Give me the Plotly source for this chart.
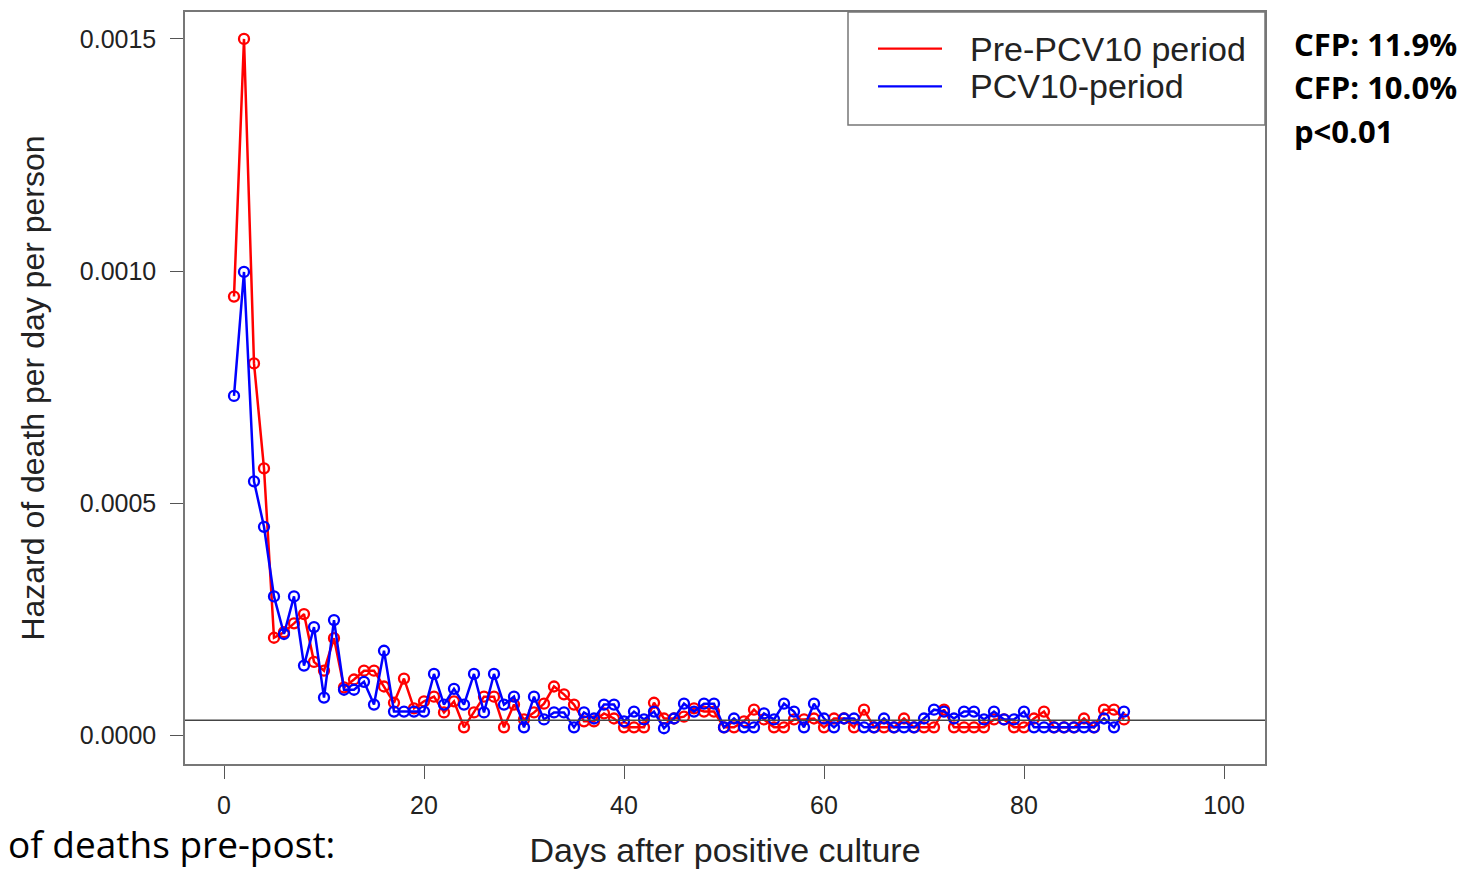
import plotly.graph_objects as go

days = list(range(1, 91))

pre_pcv10 = [
    0.000945, 0.001500, 0.000801, 0.000575, 0.000210, 0.000222, 0.000241, 0.000261, 0.000158, 0.000139,
    0.000209, 0.000103, 0.000120, 0.000139, 0.000139, 0.000105, 0.000070, 0.000122, 0.000058, 0.000073,
    0.000083, 0.000049, 0.000073, 0.000017, 0.000049, 0.000083, 0.000083, 0.000017, 0.000066, 0.000034,
    0.000049, 0.000068, 0.000105, 0.000088, 0.000066, 0.000030, 0.000030, 0.000047, 0.000036, 0.000017,
    0.000017, 0.000017, 0.000070, 0.000036, 0.000036, 0.000040, 0.000058, 0.000051, 0.000051, 0.000017,
    0.000017, 0.000030, 0.000055, 0.000034, 0.000017, 0.000017, 0.000034, 0.000034, 0.000036, 0.000017,
    0.000036, 0.000036, 0.000017, 0.000055, 0.000017, 0.000017, 0.000017, 0.000036, 0.000017, 0.000017,
    0.000017, 0.000055, 0.000017, 0.000017, 0.000017, 0.000017, 0.000034, 0.000034, 0.000017, 0.000017,
    0.000036, 0.000051, 0.000017, 0.000017, 0.000017, 0.000036, 0.000017, 0.000055, 0.000055, 0.000034,
]

pcv10 = [
    0.000731, 0.000998, 0.000547, 0.000449, 0.000299, 0.000218, 0.000299, 0.000150, 0.000233, 0.000081,
    0.000248, 0.000098, 0.000098, 0.000115, 0.000066, 0.000182, 0.000051, 0.000051, 0.000051, 0.000051,
    0.000132, 0.000066, 0.000100, 0.000066, 0.000132, 0.000049, 0.000132, 0.000066, 0.000083, 0.000017,
    0.000083, 0.000034, 0.000049, 0.000049, 0.000017, 0.000049, 0.000036, 0.000066, 0.000066, 0.000030,
    0.000051, 0.000034, 0.000051, 0.000015, 0.000036, 0.000068, 0.000051, 0.000068, 0.000068, 0.000017,
    0.000036, 0.000017, 0.000017, 0.000047, 0.000034, 0.000068, 0.000051, 0.000017, 0.000068, 0.000036,
    0.000017, 0.000036, 0.000036, 0.000017, 0.000017, 0.000036, 0.000017, 0.000017, 0.000017, 0.000036,
    0.000055, 0.000051, 0.000036, 0.000051, 0.000051, 0.000034, 0.000051, 0.000034, 0.000034, 0.000051,
    0.000017, 0.000017, 0.000017, 0.000017, 0.000017, 0.000017, 0.000017, 0.000036, 0.000017, 0.000051,
]

overall_hazard = 0.000032

series_names = ["Pre-PCV10 period", "PCV10-period"]
series_colors = ["#FF0000", "#0000FF"]
side_texts = ["CFP: 11.9%", "CFP: 10.0%", "p<0.01"]

x_ticks = [0, 20, 40, 60, 80, 100]
y_ticks = [0.0, 0.0005, 0.0010, 0.0015]

fig = go.Figure()
for name, vals, col in zip(series_names, [pre_pcv10, pcv10], series_colors):
    fig.add_trace(go.Scatter(
        x=days, y=vals, name=name, mode="lines+markers",
        line=dict(color=col, width=2.5),
        marker=dict(symbol="circle-open", size=10, color=col, line=dict(width=2.3, color=col)),
        showlegend=False,
    ))

fig.add_hline(y=overall_hazard, line=dict(color="#444444", width=1.5))

axis_font = dict(family="Liberation Sans, Arial, sans-serif", size=25, color="#222222")
xtitle_font = dict(family="Liberation Sans, Arial, sans-serif", size=34, color="#222222")
ytitle_font = dict(family="Liberation Sans, Arial, sans-serif", size=32, color="#222222")

fig.update_layout(
    width=1479, height=873,
    margin=dict(l=185, r=214, t=10, b=105),
    paper_bgcolor="white", plot_bgcolor="white",
    xaxis=dict(
        range=[-3.9, 104.1], tickvals=x_ticks, ticks="outside", ticklen=13, tickwidth=1,
        tickcolor="#555555", showline=True, mirror=True, linecolor="#777777", linewidth=1.5,
        showgrid=False, zeroline=False, tickfont=axis_font, ticklabelstandoff=5,
        title=dict(text="Days after positive culture", font=xtitle_font, standoff=20),
    ),
    yaxis=dict(
        range=[-0.000062, 0.001558], tickvals=y_ticks, tickformat=".4f", ticks="outside",
        ticklen=13, tickwidth=1, tickcolor="#555555", showline=True, mirror=True,
        linecolor="#777777", linewidth=1.5, showgrid=False, zeroline=False,
        tickfont=axis_font, ticklabelstandoff=9,
        title=dict(text="Hazard of death per day per person", font=ytitle_font, standoff=26),
    ),
)

# legend box (drawn manually to mimic base-R legend)
lx0, lx1 = (848 - 185) / 1080, 1.0
ly0, ly1 = (768 - 124) / 758, 1.0
fig.add_shape(type="rect", xref="paper", yref="paper", x0=lx0, x1=lx1, y0=ly0, y1=ly1,
              line=dict(color="#777777", width=1.5), fillcolor="white", layer="above")
for i, (name, col) in enumerate(zip(series_names, series_colors)):
    ypx = 47 + 38 * i
    yp = (768 - ypx) / 758
    fig.add_shape(type="line", xref="paper", yref="paper",
                  x0=(878 - 185) / 1080, x1=(942 - 185) / 1080, y0=yp, y1=yp,
                  line=dict(color=col, width=2.3), layer="above")
    fig.add_annotation(xref="paper", yref="paper", x=(968 - 185) / 1080, y=yp,
                       text=name, showarrow=False, xanchor="left", yanchor="middle",
                       font=dict(family="Liberation Sans, Arial, sans-serif", size=34, color="#222222"))

for i, t in enumerate(side_texts):
    ypx = 42 + 44 * i
    fig.add_annotation(xref="paper", yref="paper", x=(1292 - 185) / 1080, y=(768 - ypx) / 758,
                       text="<b>" + t + "</b>", showarrow=False, xanchor="left", yanchor="middle",
                       font=dict(family="Open Sans, Noto Sans, sans-serif", size=31, color="black"))

fig.add_annotation(xref="paper", yref="paper", x=(6 - 185) / 1080, y=(768 - 848) / 758,
                   text="of deaths pre-post:", showarrow=False, xanchor="left", yanchor="middle",
                   font=dict(family="Open Sans, Noto Sans, sans-serif", size=37, color="black"))

fig.write_html("out.html")
